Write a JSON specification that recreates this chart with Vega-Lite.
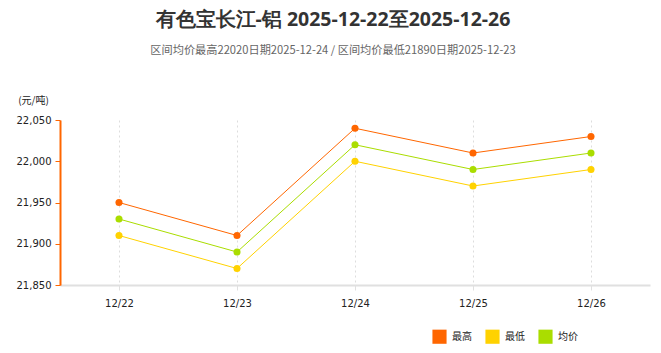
{
  "$schema": "https://vega.github.io/schema/vega-lite/v6.json",
  "autosize": {"type": "none"},
  "width": 590,
  "height": 165,
  "padding": {"left": 60, "top": 120, "right": 11, "bottom": 68},
  "background": "white",
  "title": {
    "text": "有色宝长江-铝 2025-12-22至2025-12-26",
    "subtitle": "区间均价最高22020日期2025-12-24 / 区间均价最低21890日期2025-12-23",
    "anchor": "middle",
    "dx": -22,
    "offset": 38,
    "font": "Open Sans",
    "fontSize": 19.5,
    "fontWeight": "bold",
    "color": "#333333",
    "subtitleFont": "Noto Sans CJK SC",
    "subtitleFontSize": 11.2,
    "subtitleColor": "#666666",
    "subtitlePadding": 14
  },
  "data": {
    "values": [
      {"date": "12/22", "series": "最高", "price": 21950},
      {"date": "12/23", "series": "最高", "price": 21910},
      {"date": "12/24", "series": "最高", "price": 22040},
      {"date": "12/25", "series": "最高", "price": 22010},
      {"date": "12/26", "series": "最高", "price": 22030},
      {"date": "12/22", "series": "最低", "price": 21910},
      {"date": "12/23", "series": "最低", "price": 21870},
      {"date": "12/24", "series": "最低", "price": 22000},
      {"date": "12/25", "series": "最低", "price": 21970},
      {"date": "12/26", "series": "最低", "price": 21990},
      {"date": "12/22", "series": "均价", "price": 21930},
      {"date": "12/23", "series": "均价", "price": 21890},
      {"date": "12/24", "series": "均价", "price": 22020},
      {"date": "12/25", "series": "均价", "price": 21990},
      {"date": "12/26", "series": "均价", "price": 22010}
    ]
  },
  "encoding": {
    "x": {
      "field": "date",
      "type": "ordinal",
      "scale": {"type": "point", "padding": 0.5},
      "axis": {
        "title": null,
        "labelAngle": 0,
        "labelFont": "DejaVu Sans",
        "labelFontSize": 10,
        "labelColor": "#222222",
        "labelPadding": 8,
        "domainColor": "#e0e0e0",
        "domainWidth": 2,
        "tickColor": "#e0e0e0",
        "tickSize": 5,
        "grid": true,
        "gridColor": "#dddddd",
        "gridDash": [2, 3]
      }
    },
    "y": {
      "field": "price",
      "type": "quantitative",
      "scale": {"domain": [21850, 22050], "nice": false, "zero": false},
      "axis": {
        "values": [21850, 21900, 21950, 22000, 22050],
        "format": ",d",
        "title": "(元/吨)",
        "titleAngle": 0,
        "titleX": -27,
        "titleY": -20,
        "titleAlign": "center",
        "titleBaseline": "middle",
        "titleFont": "Noto Sans CJK SC",
        "titleFontSize": 10,
        "titleFontWeight": "normal",
        "titleColor": "#222222",
        "labelFont": "DejaVu Sans",
        "labelFontSize": 10,
        "labelColor": "#222222",
        "labelPadding": 4,
        "domainColor": "#FF6600",
        "domainWidth": 2,
        "tickColor": "#FF6600",
        "tickSize": 5,
        "tickWidth": 1,
        "grid": false
      }
    },
    "color": {
      "field": "series",
      "type": "nominal",
      "scale": {"domain": ["最高", "最低", "均价"], "range": ["#FF6600", "#FFD200", "#AADD00"]},
      "sort": ["最高", "最低", "均价"],
      "legend": {
        "title": null,
        "orient": "none",
        "direction": "horizontal",
        "legendX": 372,
        "legendY": 209,
        "symbolType": "square",
        "symbolSize": 200,
        "symbolStrokeWidth": 0,
        "labelFont": "Noto Sans CJK SC",
        "labelFontSize": 10,
        "labelColor": "#222222",
        "columnPadding": 13,
        "labelOffset": 5
      }
    }
  },
  "layer": [
    {"mark": {"type": "line", "strokeWidth": 1}},
    {"mark": {"type": "point", "filled": true, "size": 50, "opacity": 1}}
  ],
  "config": {"view": {"stroke": null}}
}
